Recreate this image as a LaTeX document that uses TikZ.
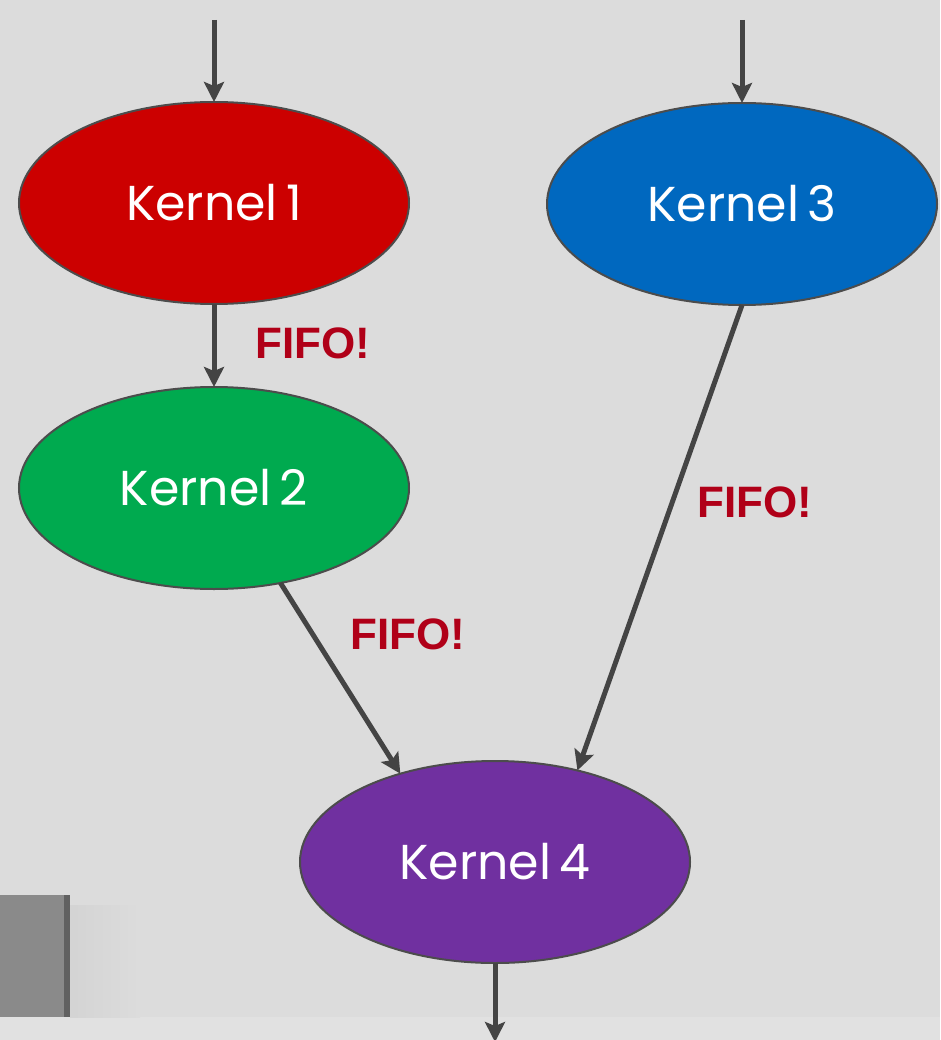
\documentclass[tikz,border=0pt]{standalone}
\usepackage{fontspec}
\setmainfont{Poppins}
\newfontfamily\fifofont{Liberation Sans}
\usetikzlibrary{arrows.meta,shapes.geometric}
\definecolor{bg}{HTML}{DCDCDC}
\definecolor{band}{HTML}{E1E1E1}
\definecolor{krnred}{HTML}{CC0000}
\definecolor{krnblue}{HTML}{0068BF}
\definecolor{krngreen}{HTML}{00AA4F}
\definecolor{krnpurple}{HTML}{7030A0}
\definecolor{flow}{HTML}{444444}
\definecolor{fifored}{HTML}{B00018}
\tikzset{
  kernel/.style={ellipse, minimum width=390, minimum height=202, inner sep=0pt,
    outer sep=0pt, draw=black!70, line width=2pt, text=white,
    font=\fontsize{49}{49}\selectfont},
  flowarrow/.style={draw=flow, line width=5pt,
    -{Stealth[length=20pt,width=20pt,inset=4pt]}},
  fifo/.style={text=fifored, font=\fifofont\bfseries\fontsize{44}{44}\selectfont}
}
\begin{document}
\begin{tikzpicture}[x=1pt,y=-1pt]
  % backdrop
  \fill[bg] (0,0) rectangle (940,1040);
  \fill[band] (0,1017) rectangle (940,1040);
  \shade[left color=black!17, right color=bg] (70,905) rectangle (140,1017);
  \fill[black!46] (0,895) rectangle (70,1017);
  \fill[black!62] (64,895) rectangle (70,1017);
  \useasboundingbox (0,0) rectangle (940,1040);

  % kernels
  \node[kernel, fill=krnred]    (k1) at (214,203) {Kernel\,1};
  \node[kernel, fill=krnblue]   (k3) at (742,204) {Kernel\,3};
  \node[kernel, fill=krngreen]  (k2) at (214,488) {Kernel\,2};
  \node[kernel, fill=krnpurple] (k4) at (495,862) {Kernel\,4};

  % free ends of the input and output streams
  \coordinate (in1) at (214,20);
  \coordinate (in3) at (742,20);
  \coordinate (out4) at (495,1042);

  % data flow
  \draw[flowarrow] (in1) -- (k1.north);
  \draw[flowarrow] (in3) -- (k3.north);
  \draw[flowarrow] (k1.south) -- (k2.north);
  \draw[flowarrow] (k2.-55.4) -- (k4.137.4);
  \draw[flowarrow] (k3.south) -- (k4.48.9);
  \draw[flowarrow] (k4.south) -- (out4);

  % channel labels
  \node[fifo] (f12) at (313,343) {FIFO!};
  \node[fifo] (f34) at (755,502) {FIFO!};
  \node[fifo] (f24) at (408,634) {FIFO!};
\end{tikzpicture}
\end{document}
